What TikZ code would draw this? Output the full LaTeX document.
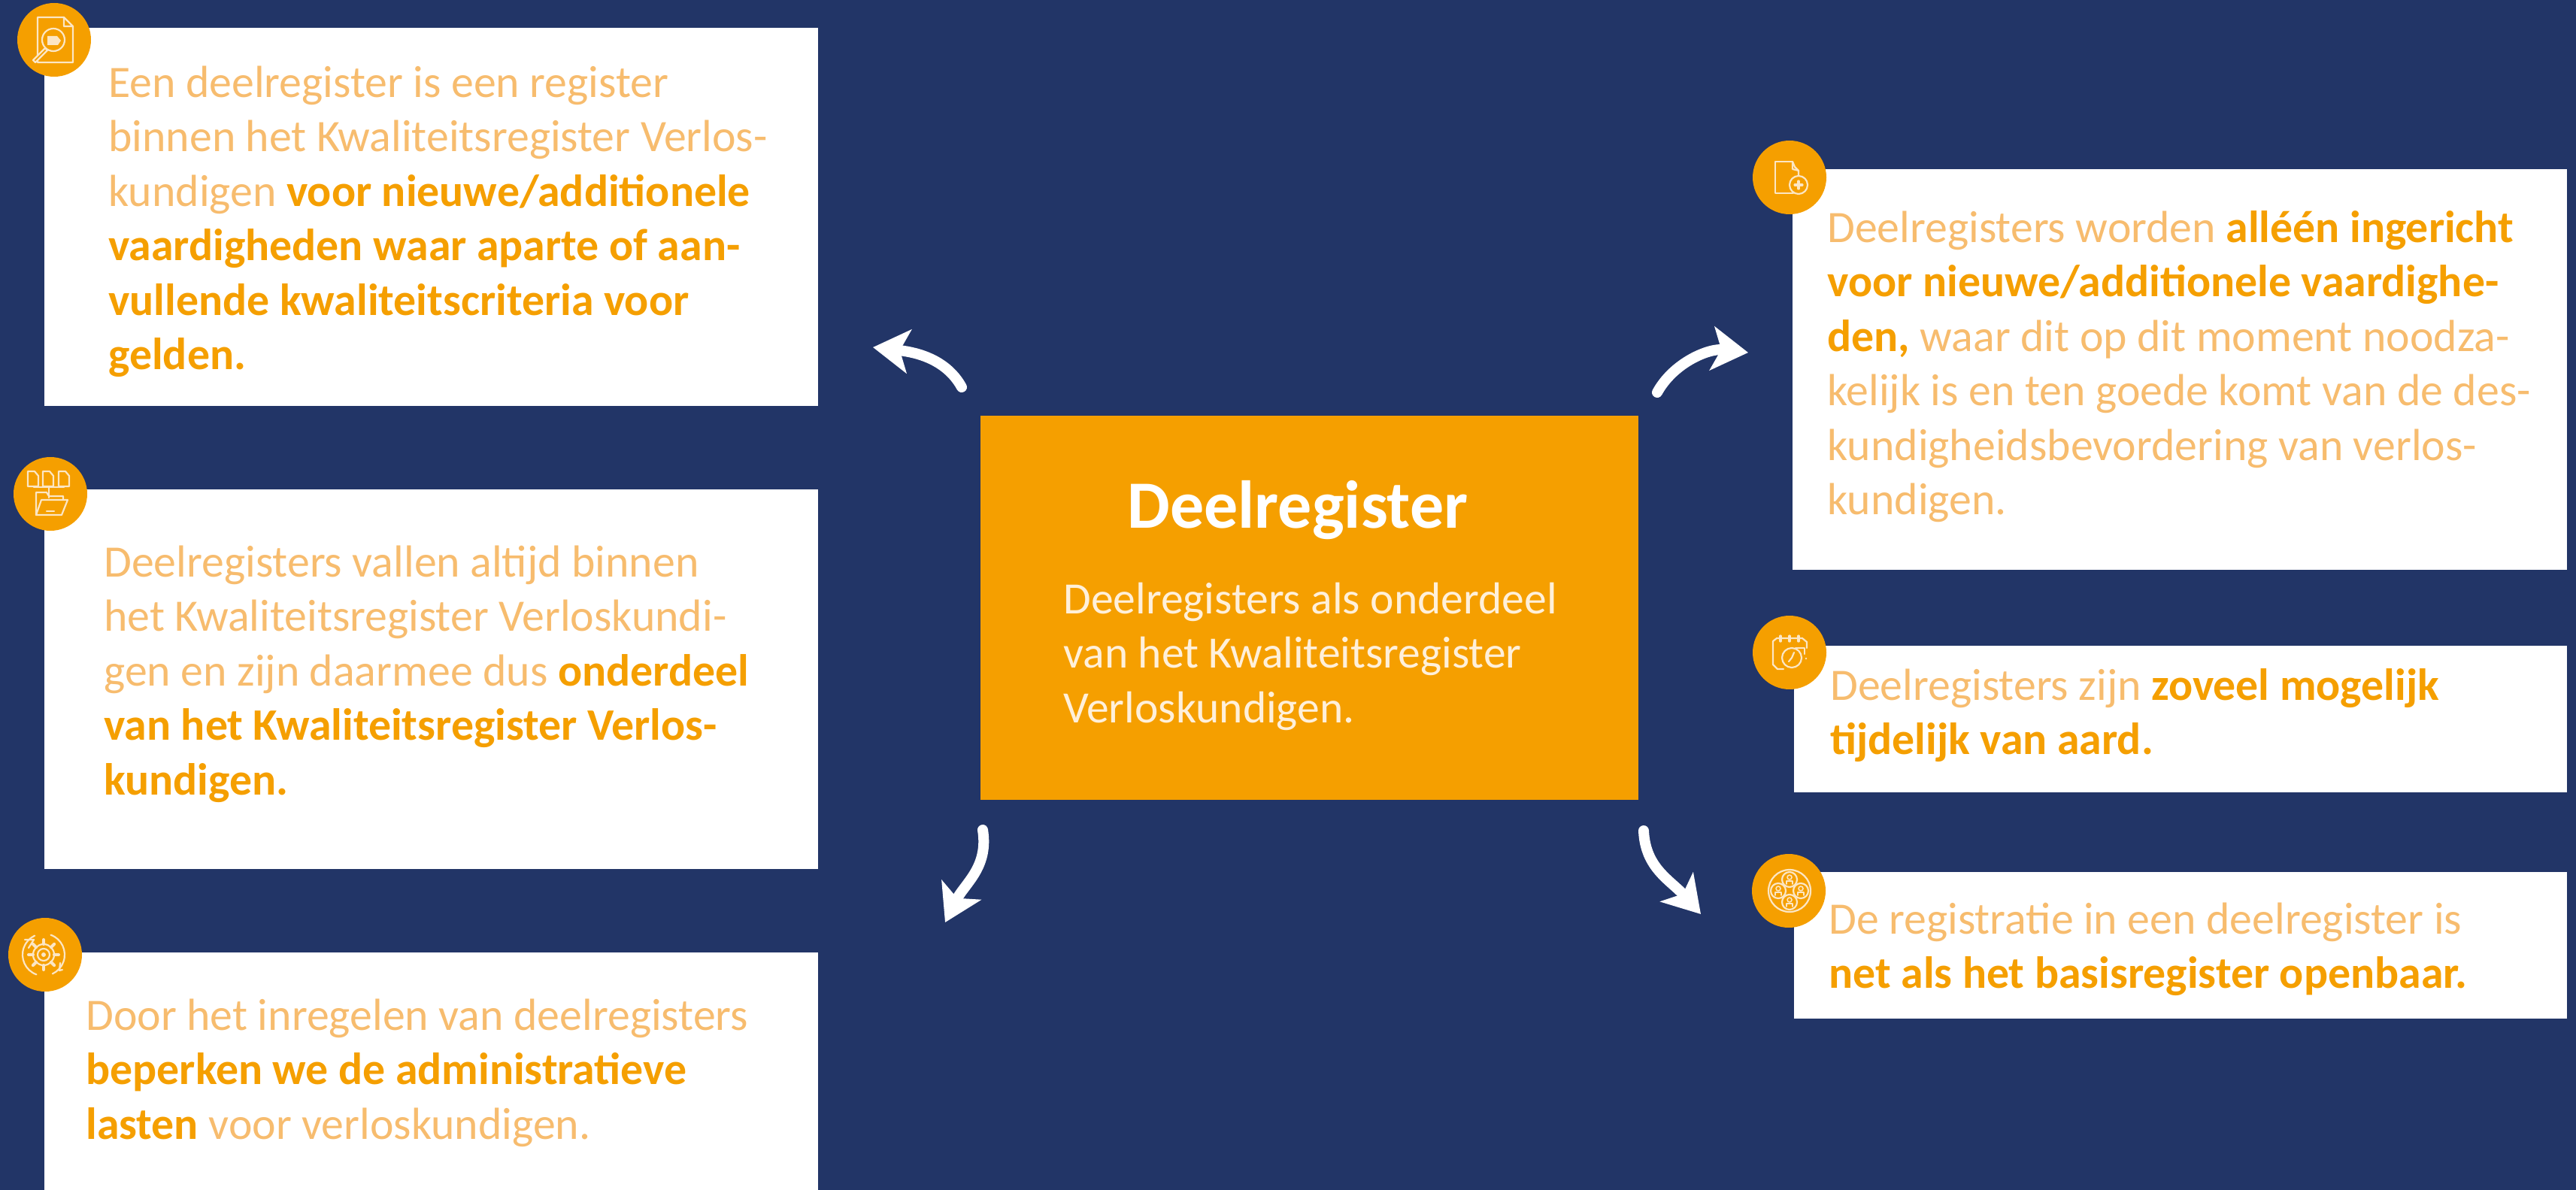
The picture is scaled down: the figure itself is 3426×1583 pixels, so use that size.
\documentclass[tikz,border=0pt]{standalone}
\usepackage{fontspec}
\setmainfont{Carlito}
\usetikzlibrary{arrows.meta}
\definecolor{navy}{RGB}{34,53,103}
\definecolor{orng}{RGB}{245,159,0}
\definecolor{lightorng}{RGB}{247,188,110}
\definecolor{lightwhite}{RGB}{255,240,218}
\definecolor{iconline}{RGB}{252,230,196}
\newcommand{\hl}[1]{\textbf{\textcolor{orng}{#1}}}
\tikzset{
  whitebox/.style={draw=none,fill=white,anchor=north west,inner sep=0pt},
  orangebox/.style={draw=none,fill=orng,anchor=north west,inner sep=0pt},
  boxtext/.style={anchor=north west,inner sep=0pt,align=left,text=lightorng,font=\fontsize{29.9}{36.25}\selectfont},
  centertext/.style={anchor=north west,inner sep=0pt,align=left,text=lightwhite,font=\fontsize{29.8}{36.25}\selectfont},
  titletext/.style={anchor=center,inner sep=0pt,text=white,font=\fontsize{45}{50}\selectfont\bfseries},
  badge/.style={circle,fill=orng,minimum size=49pt,inner sep=0pt},
  icon/.style={draw=iconline,line width=1.1pt,fill=none,line cap=round,line join=round},
  bendarrow/.style={draw=white,line width=7pt,line cap=round,-{Stealth[length=24pt,width=29pt,inset=6pt]}}
}
\begin{document}
\begin{tikzpicture}[x=0.5pt,y=-0.5pt]
\useasboundingbox (0,0) rectangle (3426,1583);
\fill[navy] (0,0) rectangle (3426,1583);
% boxes
\node[whitebox,minimum width=514.5pt,minimum height=251.5pt] (b1) at (59,37) {};
\node[whitebox,minimum width=514.5pt,minimum height=252.5pt] (b2) at (59,651) {};
\node[whitebox,minimum width=514.5pt,minimum height=158pt] (b3) at (59,1267) {};
\node[whitebox,minimum width=515pt,minimum height=266.5pt] (r1) at (2384,225) {};
\node[whitebox,minimum width=514pt,minimum height=97.5pt] (r2) at (2386,859) {};
\node[whitebox,minimum width=514pt,minimum height=97.5pt] (r3) at (2386,1160) {};
\node[orangebox,minimum width=437.5pt,minimum height=255.5pt] (c) at (1304,553) {};
% texts
\node[boxtext] (t1) at (144,78) {\strut Een deelregister is een register\\binnen het Kwaliteitsregister Verlos-\\kundigen \hl{voor nieuwe/additionele}\\\hl{vaardigheden waar aparte of aan-}\\\hl{vullende kwaliteitscriteria voor}\\\hl{gelden.}};
\node[boxtext] (t2) at (138,716) {\strut Deelregisters vallen altijd binnen\\het Kwaliteitsregister Verloskundi-\\gen en zijn daarmee dus \hl{onderdeel}\\\hl{van het Kwaliteitsregister Verlos-}\\\hl{kundigen.}};
\node[boxtext] (t3) at (114,1319) {\strut Door het inregelen van deelregisters\\\hl{beperken we de administratieve}\\\hl{lasten} voor verloskundigen.};
\node[boxtext] (t4) at (2430,271) {\strut Deelregisters worden \hl{alléén ingericht}\\\hl{voor nieuwe/additionele vaardighe-}\\\hl{den,} waar dit op dit moment noodza-\\kelijk is en ten goede komt van de des-\\kundigheidsbevordering van verlos-\\kundigen.};
\node[boxtext] (t5) at (2434,880) {\strut Deelregisters zijn \hl{zoveel mogelijk}\\\hl{tijdelijk van aard.}};
\node[boxtext] (t6) at (2432,1191) {\strut De registratie in een deelregister is\\\hl{net als het basisregister openbaar.}};
\node[titletext] (title) at (1726,679) {Deelregister};
\node[centertext] (ct) at (1414,765) {\strut Deelregisters als onderdeel\\van het Kwaliteitsregister\\Verloskundigen.};
% arrows
\coordinate (a1s) at (1279,515); \coordinate (a1e) at (1161,462);
\coordinate (a2s) at (2204,522); \coordinate (a2e) at (2325,469);
\coordinate (a3s) at (1307,1104); \coordinate (a3e) at (1257,1227);
\coordinate (a4s) at (2186,1105); \coordinate (a4e) at (2262,1216);
\draw[bendarrow] (a1s) .. controls +(-22,-40) and +(52,6) .. (a1e);
\draw[bendarrow] (a2s) .. controls +(22,-40) and +(-52,-6) .. (a2e);
\draw[bendarrow] (a3s) .. controls +(8,50) and +(26,-52) .. (a3e);
\draw[bendarrow] (a4s) .. controls +(2,50) and +(-40,-45) .. (a4e);
% badges
\node[badge] (i1) at (72,53) {};
\node[badge] (i2) at (67,657) {};
\node[badge] (i3) at (60,1270) {};
\node[badge] (i4) at (2380,236) {};
\node[badge] (i5) at (2380,868) {};
\node[badge] (i6) at (2379,1185) {};
% icon 1: document and magnifier
\draw[icon] (85,23)--(50,23)--(50,83)--(97,83)--(97,35)--(85,23)--(85,35)--(97,35);
\draw[icon,fill=orng] (71,53) circle (15);
\fill[iconline] (63,48)--(76,48)--(81,54)--(77,60)--(63,60)--cycle;
\draw[icon,fill=orng] (60,64)--(44,80)--(47,83)--(63,67)--cycle;
% icon 2: documents and folder
\foreach \dx in {37,57,78}{
  \draw[icon] (\dx+9,627)--(\dx,627)--(\dx,647)--(\dx+14,647)--(\dx+14,633)--cycle;
}
\draw[icon] (45,648)--(85,648) (65,648)--(65,662);
\draw[icon] (48,685)--(48,655)--(62,655)--(65,660)--(84,660)--(84,665);
\draw[icon] (55,665)--(90,665)--(82,685)--(48,685)--cycle;
\draw[icon] (62,680)--(72,680);
% icon 3: gear and arrows
\foreach \a in {0,45,...,315}{
  \draw[icon,line width=2pt] (58,1270)++(\a:14)--++(\a:6);
}
\draw[icon] (58,1270) circle (14);
\draw[icon] (58,1270) circle (8);
\fill[iconline] (58,1270) circle (3);
\draw[icon] (58,1270)++(-70:28) arc[start angle=-70,end angle=65,radius=28];
\draw[icon] (58,1270)++(110:28) arc[start angle=110,end angle=245,radius=28];
\draw[icon] (33,1250)--(45,1250)--(38,1261);
\draw[icon] (83,1290)--(79,1291)--(80,1281);
% icon 4: document with circle
\draw[icon] (2384,215)--(2361,215)--(2361,257)--(2385,257);
\draw[icon] (2384,215)--(2387,222)--(2392,227)--(2392,234);
\draw[icon] (2384,215)--(2384,225)--(2392,227);
\draw[icon] (2392,246) circle (12);
\draw[icon,line width=1.6pt] (2387,246)--(2397,246) (2392,241)--(2392,251);
% icon 5: calendar with clock
\draw[icon] (2372,890)--(2364,890)--(2358,884)--(2358,853)--(2363,849)--(2397,849)--(2403,854)--(2403,862);
\foreach \kx in {2368,2380,2392}{\draw[icon,line width=1.6pt] (\kx,846)--(\kx,853);}
\draw[icon] (2383,875) circle (13);
\draw[icon] (2383,875)--(2379,880) (2383,875)--(2386,868);
\draw[icon] (2388,862)--(2400,862)--(2400,870);
\fill[iconline] (2402,876) circle (1.4);
% icon 6: four people in a circle
\draw[icon] (2380,1185) circle (28);
\foreach \ox/\oy in {0/-15,-15/0,15/0,0/15}{
  \draw[icon] (2380+\ox,1185+\oy) circle (10);
  \draw[icon,line width=.8pt] (2380+\ox,1185+\oy-3) circle (3);
  \draw[icon,line width=.8pt] (2380+\ox-4,1185+\oy+6)--(2380+\ox-4,1185+\oy+2)--(2380+\ox+4,1185+\oy+2)--(2380+\ox+4,1185+\oy+6);
}
\end{tikzpicture}
\end{document}
